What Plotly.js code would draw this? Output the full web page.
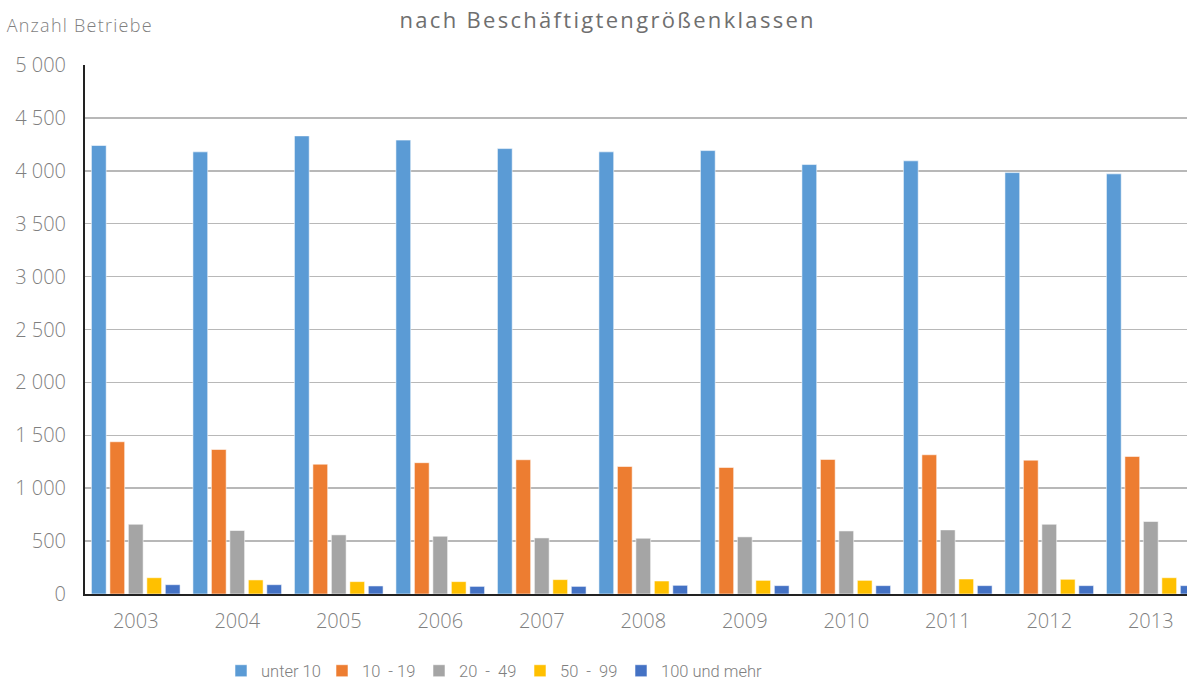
<!DOCTYPE html>
<html>
<head>
<meta charset="utf-8">
<script src="https://cdn.plot.ly/plotly-3.0.1.min.js"></script>
<style>
html,body{margin:0;padding:0;background:#fff;}
#chart{width:1187px;height:682px;}
#chart .gtitle{letter-spacing:2.3px;}
#chart .annotation-text{letter-spacing:1.25px;}
</style>
</head>
<body>
<div id="chart"></div>
<script>
var years = ['2003','2004','2005','2006','2007','2008','2009','2010','2011','2012','2013'];
var seriesNames = ['unter 10', '10\u00a0\u00a0-\u00a019', '20\u00a0\u00a0-\u00a0\u00a049', '50\u00a0\u00a0-\u00a0\u00a099', '100 und mehr'];
var unter10   = [4239, 4179, 4330, 4290, 4210, 4179, 4191, 4059, 4094, 3983, 3971];
var s10_19    = [1439, 1366, 1227, 1241, 1269, 1205, 1196, 1272, 1316, 1265, 1300];
var s20_49    = [659, 600, 559, 546, 530, 527, 540, 596, 606, 659, 685];
var s50_99    = [154, 133, 117, 117, 136, 123, 129, 129, 142, 139, 154];
var s100plus  = [88, 88, 76, 72, 72, 82, 79, 79, 79, 79, 79];
var colors = ['#5B9BD5', '#ED7D31', '#A5A5A5', '#FFC000', '#4472C4'];
var yTickVals = [0, 500, 1000, 1500, 2000, 2500, 3000, 3500, 4000, 4500, 5000];
var yTickText = ['0', '500', '1 000', '1 500', '2 000', '2 500', '3 000', '3 500', '4 000', '4 500', '5 000'];

var legendIds = ['legend', 'legend2', 'legend3', 'legend4', 'legend5'];
var legendMarkerX = [242, 343, 440, 541, 642];

var allSeries = [unter10, s10_19, s20_49, s50_99, s100plus];
var traces = allSeries.map(function (vals, i) {
  return {
    type: 'bar',
    name: seriesNames[i],
    x: years,
    y: vals,
    legend: legendIds[i],
    marker: { color: colors[i], line: { color: 'rgba(255,255,255,0.55)', width: 1 } },
    hoverinfo: 'x+y+name'
  };
});

var fam = '"Open Sans", sans-serif';
var tickFont = { family: fam, color: '#7F7F7F', size: 20, weight: 300 };
var legFont = { family: '"Liberation Sans Narrow", Roboto, sans-serif', color: '#7F7F7F', size: 16.5, weight: 300 };

var layout = {
  width: 1187,
  height: 682,
  paper_bgcolor: '#ffffff',
  plot_bgcolor: '#ffffff',
  margin: { l: 85, r: 0, t: 65, b: 88, autoexpand: false },
  barmode: 'group',
  bargap: 0.09,
  bargroupgap: 0.2,
  font: tickFont,
  title: {
    text: 'nach Beschäftigtengrößenklassen',
    font: { family: fam, size: 22, color: '#6F6F6F', weight: 400 },
    x: 0.512, xanchor: 'center', xref: 'container',
    y: 1 - 20 / 682, yanchor: 'middle', yref: 'container'
  },
  xaxis: {
    type: 'category',
    range: [-0.5, 10.357],
    showline: true, linecolor: '#222222', linewidth: 2,
    ticks: '', showgrid: false,
    tickfont: tickFont,
    ticklabelstandoff: 8
  },
  yaxis: {
    range: [0, 5000],
    tickvals: yTickVals,
    ticktext: yTickText,
    showline: true, linecolor: '#222222', linewidth: 2,
    showgrid: true, gridcolor: '#B8B8B8', gridwidth: 1.5,
    zeroline: false,
    ticks: '',
    tickfont: tickFont,
    ticklabelstandoff: 13
  },
  annotations: [{
    text: 'Anzahl Betriebe',
    xref: 'paper', yref: 'paper',
    x: (14 - 85) / 1102, xanchor: 'left',
    y: (594 - 25) / 529, yanchor: 'middle',
    showarrow: false,
    font: { family: fam, size: 18, color: '#7F7F7F', weight: 300 }
  }],
  showlegend: true
};

legendIds.forEach(function (id, i) {
  layout[id] = {
    orientation: 'h',
    xref: 'container', yref: 'container',
    x: (legendMarkerX[i] - 21) / 1187, xanchor: 'left',
    y: 1 - 671 / 682, yanchor: 'middle',
    font: legFont,
    itemwidth: 30,
    bgcolor: 'rgba(0,0,0,0)'
  };
});

Plotly.newPlot('chart', traces, layout, { displayModeBar: false, staticPlot: true });
</script>
</body>
</html>
